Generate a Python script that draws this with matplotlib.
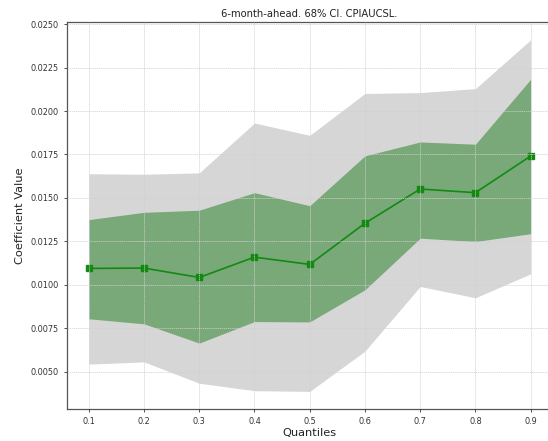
import matplotlib
matplotlib.use("Agg")
import matplotlib.pyplot as plt
import numpy as np

quantiles = [0.1, 0.2, 0.3, 0.4, 0.5, 0.6, 0.7, 0.8, 0.9]
coef = [0.01094, 0.01096, 0.01042, 0.01159, 0.01117, 0.01354, 0.01551, 0.01530, 0.01741]
ci68_low = [0.00804, 0.00775, 0.00664, 0.00788, 0.00786, 0.00971, 0.01268, 0.01249, 0.01294]
ci68_high = [0.01375, 0.01417, 0.01429, 0.01530, 0.01455, 0.01742, 0.01822, 0.01809, 0.02183]
ci95_low = [0.00543, 0.00556, 0.00433, 0.00390, 0.00386, 0.00618, 0.00990, 0.00925, 0.01063]
ci95_high = [0.01639, 0.01636, 0.01644, 0.01931, 0.01860, 0.02101, 0.02106, 0.02129, 0.02410]

fig = plt.figure(figsize=(5.48, 4.41), dpi=100)
ax = fig.add_axes([0.1217, 0.0726, 0.887, 0.877])

ax.fill_between(quantiles, ci95_low, ci95_high, color="#d6d6d6", linewidth=0)
ax.fill_between(quantiles, ci68_low, ci68_high, color="#79a979", linewidth=0)
ax.plot(quantiles, coef, color="#128a12", marker="s", markersize=3.8, linewidth=1.2)

ax.set_xticks(quantiles)
ax.set_xticklabels([f"{q:.1f}" for q in quantiles])
ax.set_yticks(np.arange(0.005, 0.0251, 0.0025))
ax.yaxis.set_major_formatter(matplotlib.ticker.FormatStrFormatter("%.4f"))
ax.tick_params(labelsize=5.9, colors="#333333", length=2.5, width=0.6)
ax.grid(True, color="#d0d0d0", linestyle=(0, (2, 1)), linewidth=0.5)
ax.set_axisbelow(False)
for sp in ax.spines.values():
    sp.set_color("#555555")
    sp.set_linewidth(0.9)

ax.set_title("6-month-ahead. 68% CI. CPIAUCSL.", fontsize=7.2, color="#222222", pad=4)
ax.set_xlabel("Quantiles", fontsize=8.2, color="#222222", labelpad=1.5)
ax.set_ylabel("Coefficient Value", fontsize=8.2, color="#222222", labelpad=4)

fig.savefig("out.png", dpi=100)
